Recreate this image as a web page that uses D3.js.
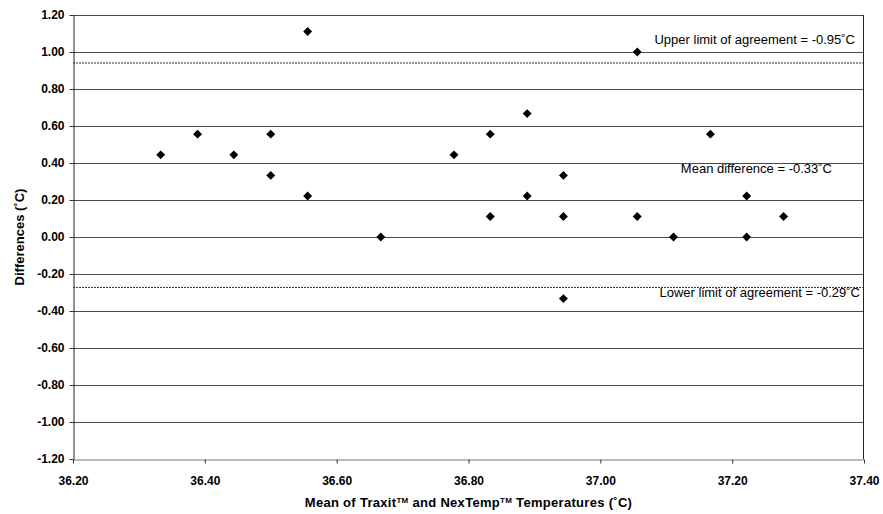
<!DOCTYPE html>
<html>
<head>
<meta charset="utf-8">
<script src="https://cdn.jsdelivr.net/npm/d3@7"></script>
<style>
  body { margin: 0; background: #fff; }
  text { font-family: "Liberation Sans", Arial, sans-serif; }
</style>
</head>
<body>
<div id="chart"></div>
<script>
// Bland-Altman: mean of the two thermometers vs their difference
const meanTemps = [36.333, 36.389, 36.444, 36.5, 36.5, 36.556, 36.556, 36.667, 36.778, 36.833, 36.833,
  36.889, 36.889, 36.944, 36.944, 36.944, 37.056, 37.056, 37.111, 37.167, 37.222, 37.222, 37.278];
const diffs = [0.444, 0.556, 0.444, 0.556, 0.333, 1.111, 0.222, 0.0, 0.444, 0.556, 0.111,
  0.667, 0.222, 0.333, 0.111, -0.333, 1.0, 0.111, 0.0, 0.556, 0.222, 0.0, 0.111];

const xTicks = [36.2, 36.4, 36.6, 36.8, 37.0, 37.2, 37.4];
const yTicks = [-1.2, -1.0, -0.8, -0.6, -0.4, -0.2, 0, 0.2, 0.4, 0.6, 0.8, 1.0, 1.2];

const upperLimit = 0.943, lowerLimit = -0.27, meanDiff = 0.37;
const upperLabel = "Upper limit of agreement = -0.95˚C";
const meanLabel = "Mean difference = -0.33˚C";
const lowerLabel = "Lower limit of agreement = -0.29˚C";

const width = 883, height = 514;
const margin = {top: 15, right: 19, bottom: 55, left: 73};

const svg = d3.select('#chart').append('svg')
  .attr('width', width)
  .attr('height', height)

const x = d3.scaleLinear().domain([36.2, 37.4]).range([margin.left, width - margin.right])
const y = d3.scaleLinear().domain([-1.2, 1.2]).range([height - margin.bottom, margin.top])

// plain hyphen for negatives, like the original
const fmt = d => d3.format('.2f')(d).replace('−', '-')

// horizontal grid
svg.append('g')
  .selectAll('line')
  .data(yTicks.slice(1))
  .join('line')
  .attr('x1', margin.left).attr('x2', width - margin.right)
  .attr('y1', d => y(d) + 0.5).attr('y2', d => y(d) + 0.5)
  .attr('stroke', '#4a4a4a')
  .attr('stroke-width', 1)

// right border
svg.append('line')
  .attr('x1', width - margin.right - 0.5).attr('x2', width - margin.right - 0.5)
  .attr('y1', y(1.2)).attr('y2', y(-1.2))
  .attr('stroke', '#222')

// limit lines
svg.append('g')
  .selectAll('line')
  .data([upperLimit, lowerLimit])
  .join('line')
  .attr('x1', margin.left).attr('x2', width - margin.right)
  .attr('y1', d => y(d) + 0.5).attr('y2', d => y(d) + 0.5)
  .attr('stroke', '#333')
  .attr('stroke-dasharray', '2,1')

// axes
const xAxis = svg.append('g')
  .attr('transform', `translate(0,${y(-1.2) + 0.5})`)
  .call(d3.axisBottom(x).tickValues(xTicks).tickFormat(fmt).tickSize(4).tickSizeOuter(0))
xAxis.select('.domain').attr('stroke', '#777')
xAxis.selectAll('.tick line').attr('stroke', '#333')
xAxis.selectAll('text').attr('font-size', 12).attr('font-weight', 'bold').attr('dy', '1.55em').attr('fill', '#000')

const yAxis = svg.append('g')
  .attr('transform', `translate(${margin.left + 0.5},0)`)
  .call(d3.axisLeft(y).tickValues(yTicks).tickFormat(fmt).tickSize(4).tickSizeOuter(0))
yAxis.select('.domain').attr('stroke', '#222')
yAxis.selectAll('.tick line').attr('stroke', '#333')
yAxis.selectAll('text').attr('font-size', 12).attr('font-weight', 'bold').attr('fill', '#000').attr('x', -9)

// points
svg.append('g')
  .selectAll('path')
  .data(meanTemps)
  .join('path')
  .attr('d', d3.symbol(d3.symbolSquare, 40))
  .attr('transform', (d, i) => `translate(${x(d)},${y(diffs[i])}) rotate(45)`)
  .attr('fill', '#000')

// annotations
const notes = svg.append('g')
  .attr('font-size', 13)
  .attr('text-anchor', 'end')
  .attr('fill', '#000')
notes.append('text').attr('x', 855).attr('y', y(upperLimit) - 19).text(upperLabel)
notes.append('text').attr('x', 832).attr('y', y(meanDiff) + 4).text(meanLabel)
notes.append('text').attr('x', 860).attr('y', y(lowerLimit) + 10).text(lowerLabel)

// axis titles
svg.append('text')
  .attr('x', (margin.left + width - margin.right) / 2)
  .attr('y', 507)
  .attr('text-anchor', 'middle')
  .attr('font-size', 13)
  .attr('font-weight', 'bold')
  .attr('letter-spacing', 0.3)
  .html('Mean of Traxit<tspan font-size="8" dy="-4">TM</tspan><tspan dy="4"> and NexTemp</tspan><tspan font-size="8" dy="-4">TM</tspan><tspan dy="4"> Temperatures (˚C)</tspan>')

svg.append('text')
  .attr('transform', `translate(24,${y(0)}) rotate(-90)`)
  .attr('text-anchor', 'middle')
  .attr('font-size', 13)
  .attr('font-weight', 'bold')
  .text('Differences (˚C)')
</script>
</body>
</html>
